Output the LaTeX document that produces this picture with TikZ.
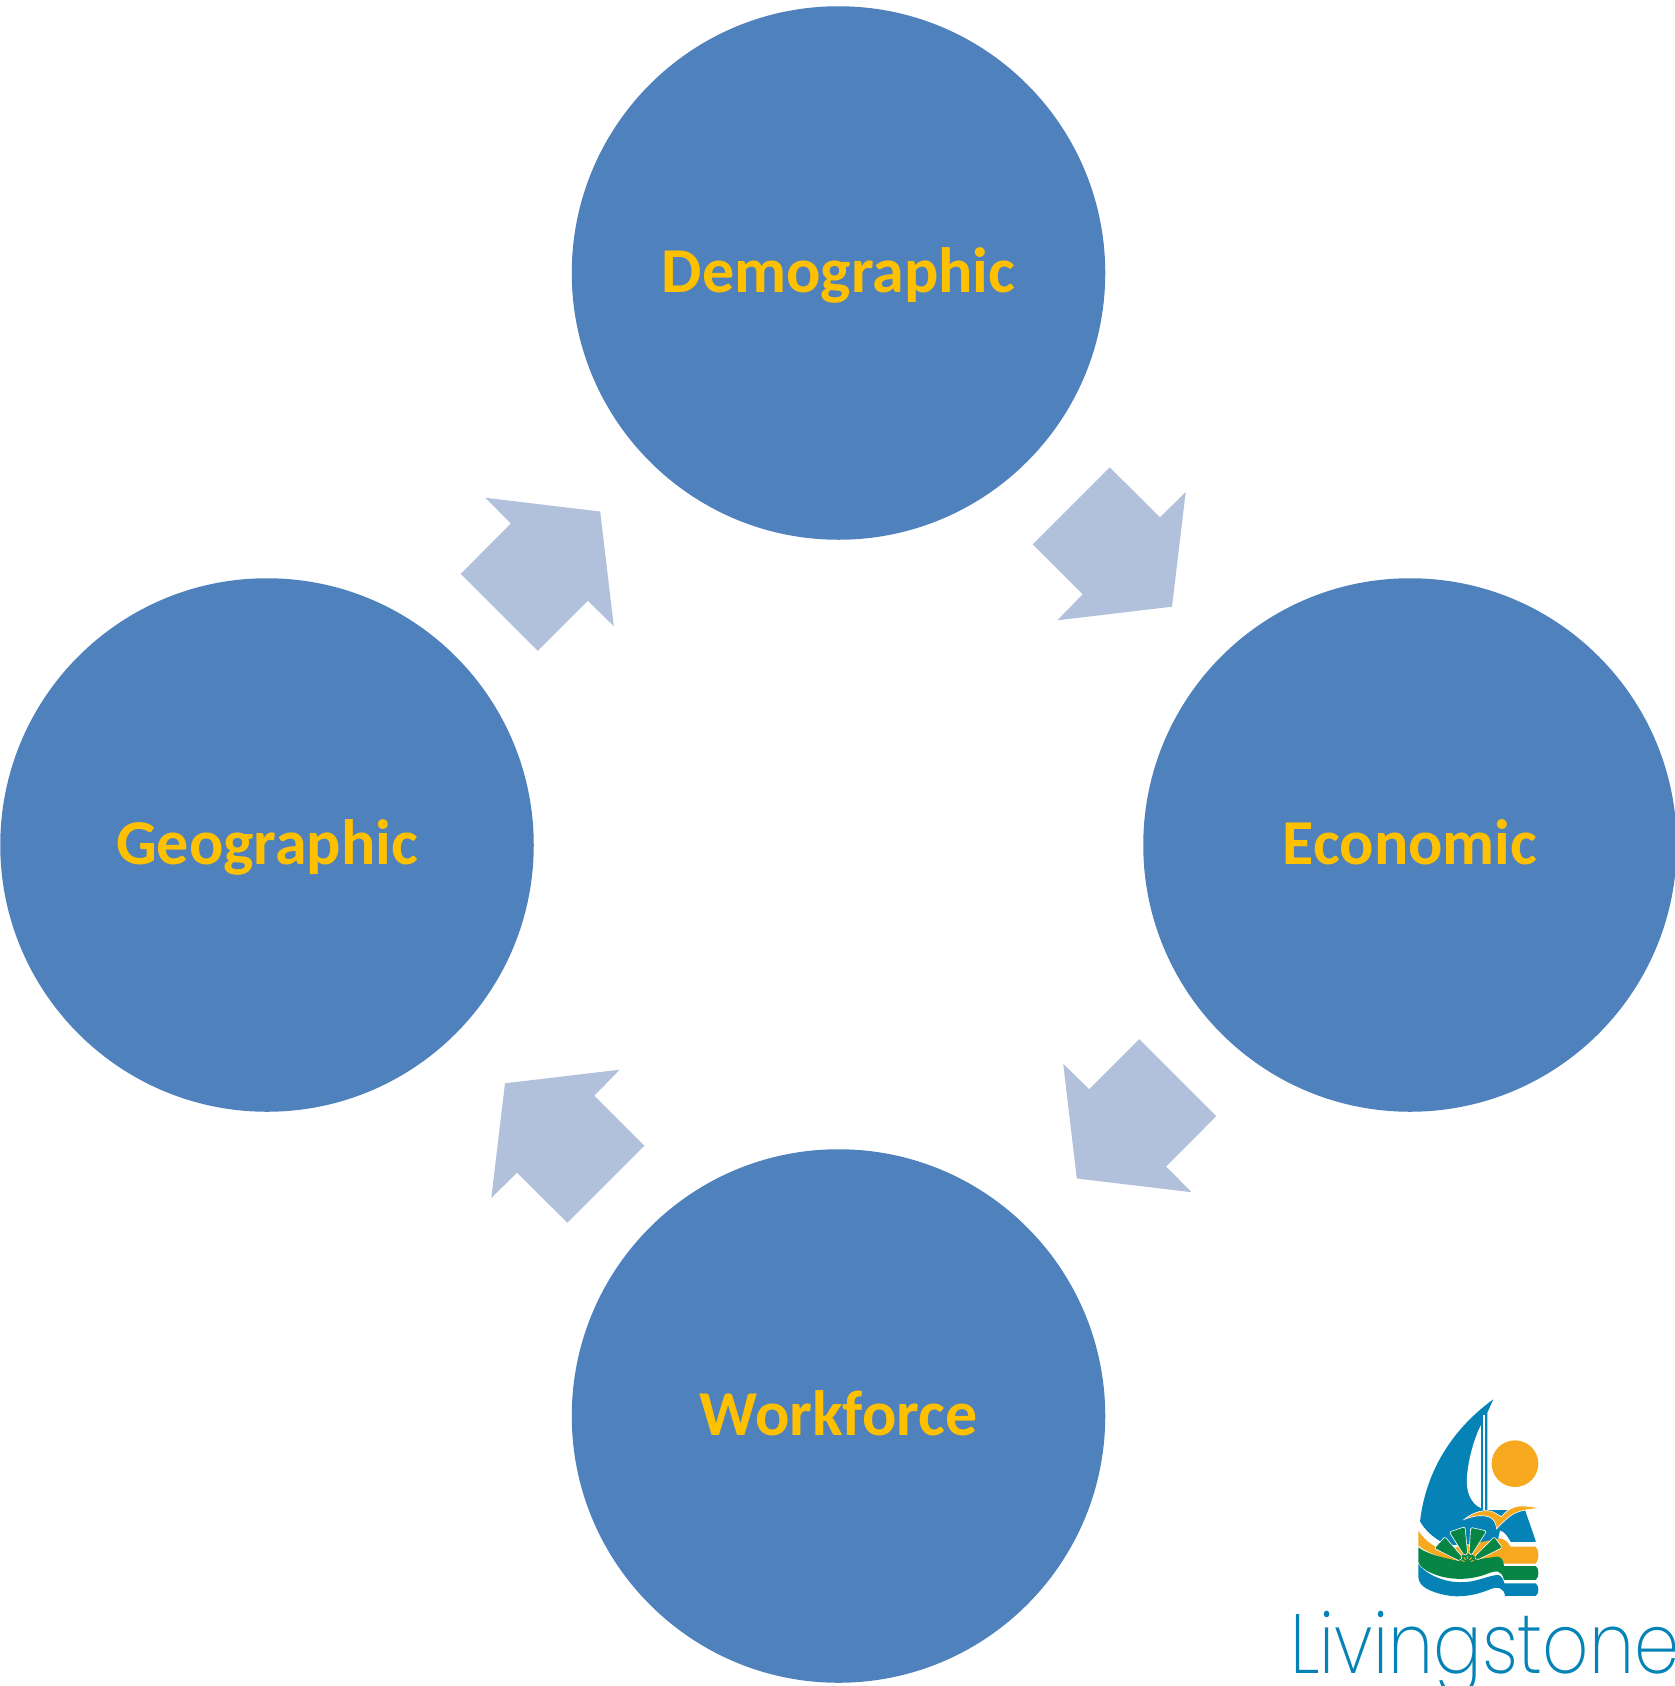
\documentclass[tikz,border=0pt]{standalone}
\usepackage{fontspec}
\setmainfont{Carlito}
\newfontfamily\lvfont[UprightFont=* ExtraLight,FakeStretch=0.86]{Poppins}
\definecolor{disc}{HTML}{4F81BD}
\definecolor{lab}{HTML}{FFC000}
\definecolor{arr}{HTML}{B2C1DB}
\definecolor{lblue}{HTML}{0583B7}
\definecolor{lorange}{HTML}{F6A81E}
\definecolor{lgreen}{HTML}{068544}
\tikzset{
  topic/.style={circle,fill=disc,minimum size=533.5pt,inner sep=0pt,text=lab,text height=38pt,text depth=0pt,font=\fontsize{64}{64}\selectfont\bfseries},
  blockarrow/.style={fill=arr},
  leaf/.style={fill=lgreen,draw=white,line width=0.6pt,line join=round,rounded corners=1.5pt}
}
\begin{document}
\begin{tikzpicture}[x=1pt,y=-1pt]
\useasboundingbox (0,0) rectangle (1675,1686);
\clip (0,0) rectangle (1675,1686);
\node[topic] (dem) at (838.5,273) {Demographic};
\node[topic] (eco) at (1410,845) {Economic};
\node[topic] (wor) at (838.5,1416) {Workforce};
\node[topic] (geo) at (267,845) {Geographic};
% block arrows
\fill[blockarrow] (1109.7,467.3)--(1160,517.3)--(1185.7,492)--(1172,606.7)--(1057.3,620.3)--(1082.7,594.3)--(1032.7,544.3)--cycle;
\fill[blockarrow] (1139.2,1039.2)--(1216.2,1116.2)--(1166.2,1166.5)--(1191.5,1192.2)--(1076.8,1178.5)--(1063.2,1063.8)--(1089.2,1089.2)--cycle;
\fill[blockarrow] (644.3,1145.7)--(567.3,1222.7)--(517,1172.7)--(491.3,1198)--(505,1083.3)--(619.7,1069.7)--(594.3,1095.7)--cycle;
\fill[blockarrow] (460.8,573.8)--(537.8,650.8)--(587.8,600.8)--(613.8,626.2)--(600.2,511.5)--(485.5,497.8)--(510.8,523.5)--cycle;
% logo
\begin{scope}[shift={(1270,1380)},x=0.3333pt,y=-0.3333pt]
 \fill[lorange] (735,251) circle (70);
 % sail and hull
 \fill[lblue] (670,58) .. controls (570,130) and (470,250) .. (450,425)
   .. controls (470,460) and (500,480) .. (530,495) -- (720,490) -- (798,485) -- (765,390) -- (652,390) -- (652,98) -- cycle;
 \fill[white] (633,135) .. controls (605,190) and (585,280) .. (592,325) .. controls (597,355) and (615,378) .. (633,384) -- cycle;
 \fill[white] (639,105) rectangle (644,390);
 % white notch at hull right
 \fill[white] (690,452) .. controls (705,455) and (712,470) .. (722,486) -- (800,486) -- (800,500) -- (680,500) -- cycle;
 % bird
 \filldraw[lorange,draw=white,line width=0.6pt] (583,418) .. controls (610,395) and (650,385) .. (672,397) .. controls (682,403) and (690,408) .. (695,410)
   .. controls (710,390) and (730,378) .. (755,378) .. controls (775,378) and (795,381) .. (810,385) .. controls (775,387) and (745,392) .. (725,405)
   .. controls (705,420) and (690,435) .. (680,447) .. controls (678,430) and (672,415) .. (655,410) .. controls (630,403) and (605,410) .. cycle;
 % orange wave
 \fill[white] (450,425) .. controls (470,460) and (500,480) .. (530,495) -- (530,520) -- (445,470) -- cycle;
 \fill[lorange] (445,452) .. controls (462,478) and (485,498) .. (520,510) -- (690,475) .. controls (708,478) and (715,490) .. (722,500) -- (797,500) .. controls (808,510) and (808,540) .. (797,551) -- (700,551) -- (570,550) .. controls (530,535) and (480,525) .. (445,497) -- cycle;
 % green wave
 \fill[lgreen] (445,502) .. controls (475,525) and (530,535) .. (575,545) -- (680,530) .. controls (695,530) and (700,540) .. (702,558) -- (797,558) .. controls (808,565) and (808,592) .. (797,600) -- (702,600) .. controls (695,570) and (680,570) .. (650,582) .. controls (590,605) and (520,600) .. (470,572) .. controls (455,562) and (447,555) .. (445,545) -- cycle;
 % blue wave
 \fill[lblue] (445,552) .. controls (470,585) and (530,612) .. (590,606) .. controls (630,602) and (660,585) .. (685,585) .. controls (695,588) and (700,598) .. (703,610) -- (797,610) .. controls (808,618) and (808,640) .. (797,648) -- (705,648) .. controls (703,625) and (685,618) .. (660,628) .. controls (620,645) and (570,655) .. (525,645) .. controls (480,635) and (445,620) .. (445,590) -- cycle;
 % palm
 \fill[lgreen] (593,548) circle (28);
 \path[leaf] (493,505) -- (525,470) -- (578,532) -- (568,543) -- cycle;
 \path[leaf] (538,456) -- (585,440) -- (593,522) -- (582,526) -- cycle;
 \path[leaf] (602,442) -- (650,453) -- (605,525) -- (597,522) -- cycle;
 \path[leaf] (673,470) -- (697,503) -- (622,540) -- (612,532) -- cycle;
 \foreach \a in {160,125,90,55,20}
   \draw[lorange,line width=1pt] ({593+10*cos(\a)},{548-10*sin(\a)}) -- ({593+20*cos(\a)},{548-20*sin(\a)});
 \node[anchor=base west,inner sep=0pt,text=lblue,font=\lvfont\fontsize{84}{84}\selectfont] (brand) at (60,880) {Livingstone};
\end{scope}
\end{tikzpicture}
\end{document}
